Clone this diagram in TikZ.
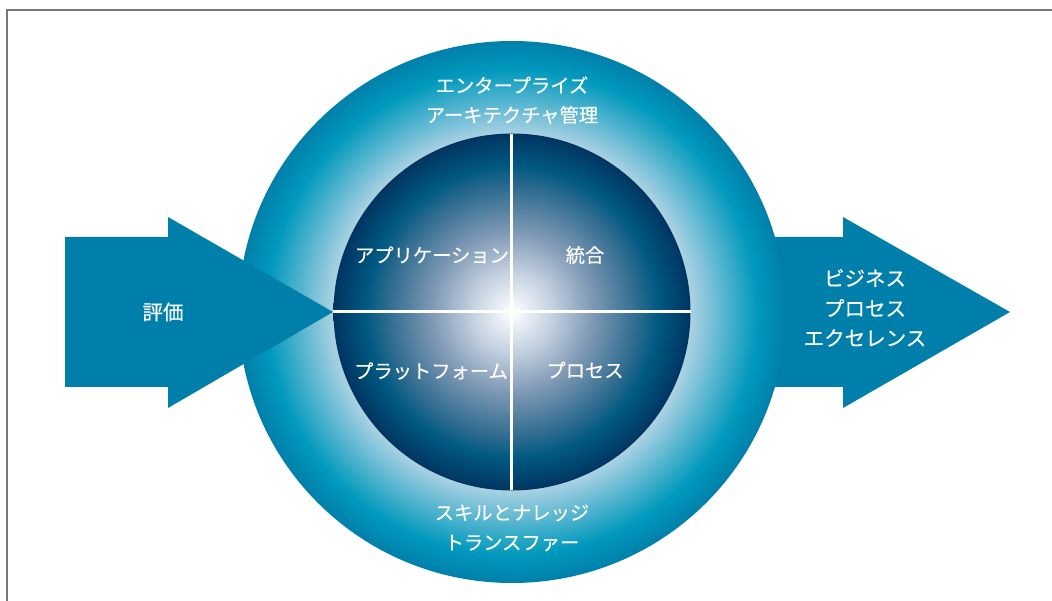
\documentclass[tikz,border=0pt]{standalone}
\usepackage{fontspec}
\setmainfont{Noto Sans CJK JP}[Scale=1,FakeBold=0.3]
\definecolor{arrowblue}{HTML}{007FAB}
\definecolor{framegray}{HTML}{777777}
\pgfdeclareradialshading{ringshade}{\pgfpoint{0bp}{0bp}}{
  rgb(0bp)=(0.67,0.82,0.89);
  rgb(16.4bp)=(0.67,0.82,0.89);
  rgb(22.4bp)=(0.0,0.60,0.74);
  rgb(25bp)=(0.0,0.50,0.67);
  rgb(50bp)=(0.0,0.50,0.67)}
\pgfdeclareradialshading{coreshade}{\pgfpoint{0bp}{0bp}}{
  rgb(0bp)=(1,1,1);
  rgb(5.6bp)=(0.77,0.82,0.88);
  rgb(11.2bp)=(0.50,0.60,0.71);
  rgb(17.5bp)=(0.18,0.42,0.56);
  rgb(20.4bp)=(0.0,0.35,0.51);
  rgb(25bp)=(0.0,0.21,0.38);
  rgb(50bp)=(0.0,0.21,0.38)}
\tikzset{
  flowarrow/.style={fill=arrowblue,draw=none},
  lbl/.style={text=white,font=\fontsize{19.3}{19.3}\selectfont,inner sep=0pt,anchor=center},
  arrowlbl/.style={lbl,font=\fontsize{20.5}{20.5}\selectfont},
  crossline/.style={draw=white,line width=3pt}
}
\begin{document}
\begin{tikzpicture}[x=1pt,y=-1pt]
\useasboundingbox (0,0) rectangle (1052,601);
\draw[framegray,line width=1.8pt] (7,601) -- (7,10) -- (1052,10);
% right arrow lies behind the disc
\fill[flowarrow] (700,237) -- (843,237) -- (843,217) -- (1010,312) -- (843,408) -- (843,387) -- (700,387) -- cycle;
\coordinate (c) at (512,312);
\shade[shading=ringshade] (c) ellipse [x radius=273.5,y radius=271];
\fill[flowarrow] (65,237) -- (168,237) -- (168,217) -- (333,312) -- (168,408) -- (168,387) -- (65,387) -- cycle;
\shade[shading=coreshade] (c) circle [radius=178.5];
\coordinate (cl) at (333,312);
\coordinate (cr) at (691,312);
\coordinate (ct) at (511.5,134);
\coordinate (cb) at (511.5,490);
\draw[crossline] (cl) -- (cr);
\draw[crossline] (ct) -- (cb);
\node[lbl] (t1) at (512,85) {エンタープライズ};
\node[lbl] (t2) at (512,115) {アーキテクチャ管理};
\node[lbl] (q1) at (432,255) {アプリケーション};
\node[lbl] (q2) at (585,255) {統合};
\node[lbl] (q3) at (431,371) {プラットフォーム};
\node[lbl] (q4) at (585,370) {プロセス};
\node[lbl] (b1) at (512,513) {スキルとナレッジ};
\node[lbl] (b2) at (512,543) {トランスファー};
\node[arrowlbl] (l1) at (163,312) {評価};
\node[arrowlbl] (r1) at (865,278) {ビジネス};
\node[arrowlbl] (r2) at (865,308) {プロセス};
\node[arrowlbl] (r3) at (865,338) {エクセレンス};
\end{tikzpicture}
\end{document}
